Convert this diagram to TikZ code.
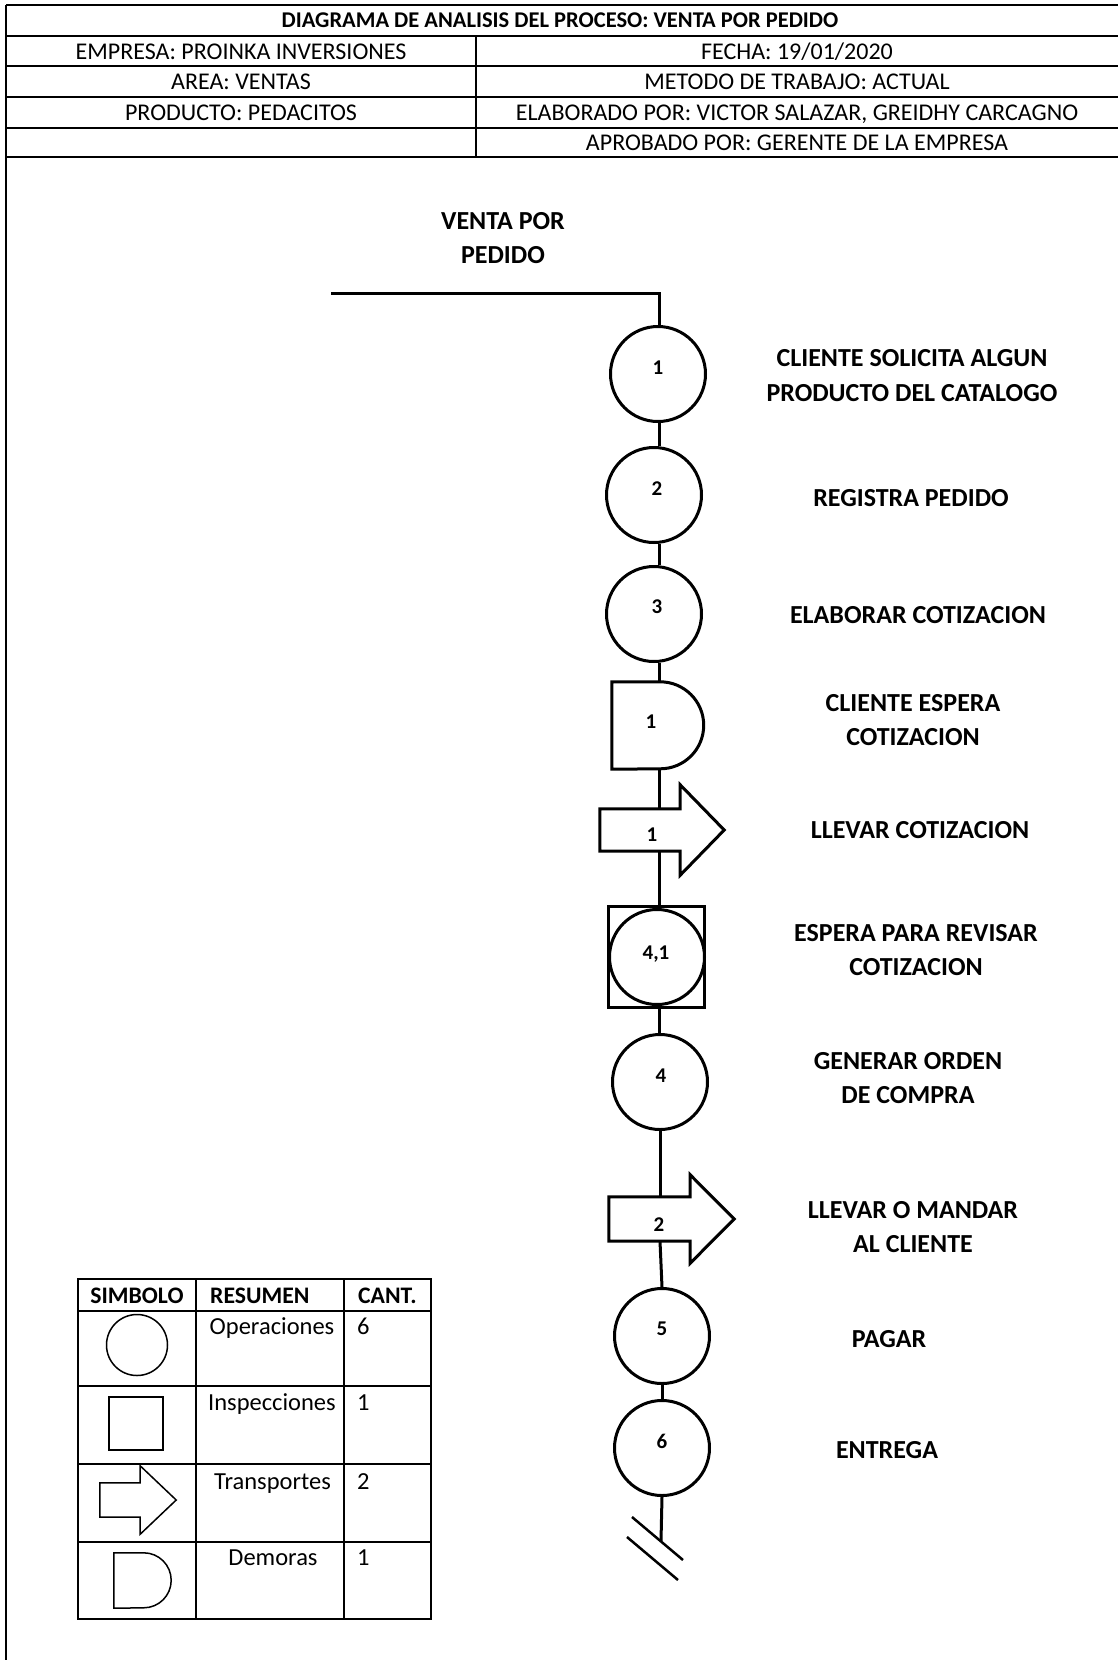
\documentclass[tikz,border=0pt]{standalone}
\usepackage{fontspec}
\setmainfont{Carlito}
\usetikzlibrary{calc}
\newcommand\tarrowshape[4]{% node, head extend, tip length, line width
  \draw[line width=#4, fill=white] (#1.north west) -- (#1.north east) -- ++(0,-#2)
    -- ($(#1.east)+(#3,0)$) -- ($(#1.south east)+(0,#2)$) -- (#1.south east)
    -- (#1.south west) -- cycle;}
\newcommand\dshape[3]{% node, radius, line width
  \draw[line width=#3, fill=white] (#1.north west) -- ($(#1.north east)-(#2,0)$)
    arc[start angle=-90, end angle=90, radius=#2] -- (#1.south west) -- cycle;}
\begin{document}
\begin{tikzpicture}[x=1pt,y=-1pt,
  hdr/.style={font=\fontsize{24}{28}\selectfont, anchor=base, inner sep=0},
  hdrb/.style={font=\fontsize{22.5}{26}\selectfont\bfseries, anchor=base, inner sep=0},
  lbl/.style={font=\fontsize{26}{34.5}\selectfont\bfseries, align=center, inner sep=0},
  num/.style={font=\fontsize{21}{24}\selectfont\bfseries, anchor=base, inner sep=0},
  lgt/.style={font=\fontsize{24.5}{28}\selectfont, anchor=base, inner sep=0},
  lgtb/.style={font=\fontsize{23.7}{27}\selectfont\bfseries, anchor=base, inner sep=0},
  op/.style={circle, draw, line width=3pt, minimum size=95pt, inner sep=0, fill=white},
  box/.style={draw=none, inner sep=0},
  flow/.style={line width=3pt},
  tbl/.style={line width=2pt},
  sym/.style={line width=1.5pt}]
\useasboundingbox (0,0) rectangle (1118,1660);
% ---------- header ----------
\draw[tbl] (6,5) -- (6,1660);
\foreach \yy in {5,36,66,97,128,157} \draw[tbl] (6,\yy) -- (1118,\yy);
\draw[tbl] (476,36) -- (476,157);
\node[hdrb] (title) at (560,27.5) {DIAGRAMA DE ANALISIS DEL PROCESO: VENTA POR PEDIDO};
\node[hdr] (emp) at (241,59) {EMPRESA: PROINKA INVERSIONES};
\node[hdr] (fec) at (797,59) {FECHA: 19/01/2020};
\node[hdr] (area) at (241,89) {AREA: VENTAS};
\node[hdr] (met) at (797,89) {METODO DE TRABAJO: ACTUAL};
\node[hdr] (prod) at (241,120) {PRODUCTO: PEDACITOS};
\node[hdr] (ela) at (797,120) {ELABORADO POR: VICTOR SALAZAR, GREIDHY CARCAGNO};
\node[hdr] (apr) at (797,150) {APROBADO POR: GERENTE DE LA EMPRESA};
% ---------- flow ----------
\node[lbl] (vp) at (503,238) {VENTA POR\\PEDIDO};
\coordinate (spine) at (659,0);
\coordinate (start) at (331,293);
\coordinate (end) at (661,1541);
\node[op] (c1) at (658,374) {};
\node[op] (c2) at (654,495) {};
\node[op] (c3) at (654,614) {};
\node[box, minimum width=91.5pt, minimum height=87pt] (d1) at (657.75,725.5) {};
\node[box, minimum width=80pt, minimum height=42pt] (t1) at (640,830) {};
\node[draw, line width=3pt, fill=white, minimum width=96pt, minimum height=101pt, inner sep=0] (sq) at (656.5,957) {};
\node[op] (c41) at (657,957) {};
\node[op] (c4) at (660,1082) {};
\node[box, minimum width=81pt, minimum height=44pt] (t2) at (649.5,1219) {};
\node[op] (c5) at (662,1336) {};
\node[op] (c6) at (662,1448) {};
\dshape{d1}{43.5}{3pt}
\tarrowshape{t1}{24}{44}{3pt}
\tarrowshape{t2}{22}{44}{3pt}
% connectors
\draw[flow] (start) -| (c1.north -| spine);
\draw[flow] (c1.south -| spine) -- (c2.north -| spine);
\draw[flow] (c2.south -| spine) -- (c3.north -| spine);
\draw[flow] (c3.south -| spine) -- (d1.north -| spine);
\draw[flow] (d1.south -| spine) -- (t1.north -| spine);
\draw[flow] (t1.south -| spine) -- (sq.north -| spine);
\draw[flow] (sq.south -| spine) -- (c4.north -| spine);
\draw[flow] (c4.south) -- (c4.south |- t2.north);
\draw[flow] (c4.south |- t2.south) -- (c5.north);
\draw[flow] (c5.south) -- (c6.north);
\draw[flow] (c6.south) -- (end);
\draw[line width=2.5pt] (632,1517) -- (683,1560);
\draw[line width=2.5pt] (627,1537) -- (678,1580);
% numbers
\node[num] (n1) at (658,374) {1};
\node[num] (n2) at (657,495) {2};
\node[num] (n3) at (657,613) {3};
\node[num] (nd1) at (651,728) {1};
\node[num] (nt1) at (652,841) {1};
\node[num] (n41) at (656,959) {4,1};
\node[num] (n4) at (661,1082) {4};
\node[num] (nt2) at (659,1231) {2};
\node[num] (n5) at (662,1335) {5};
\node[num] (n6) at (662,1448) {6};
% labels
\node[lbl] (l1) at (912,375.5) {CLIENTE SOLICITA ALGUN\\PRODUCTO DEL CATALOGO};
\node[lbl] (l2) at (911,498) {REGISTRA PEDIDO};
\node[lbl] (l3) at (918,615) {ELABORAR COTIZACION};
\node[lbl] (l4) at (913,720) {CLIENTE ESPERA\\COTIZACION};
\node[lbl] (l5) at (920,830) {LLEVAR COTIZACION};
\node[lbl] (l6) at (916,950) {ESPERA PARA REVISAR\\COTIZACION};
\node[lbl] (l7) at (908,1078) {GENERAR ORDEN\\DE COMPRA};
\node[lbl] (l8) at (913,1227) {LLEVAR O MANDAR\\AL CLIENTE};
\node[lbl] (l9) at (889,1339) {PAGAR};
\node[lbl] (l10) at (887,1450) {ENTREGA};
% ---------- legend ----------
\draw[tbl] (78,1279) rectangle (431,1619);
\foreach \yy in {1311,1386,1464,1542} \draw[tbl] (78,\yy) -- (431,\yy);
\draw[tbl] (196,1279) -- (196,1619);
\draw[tbl] (344,1279) -- (344,1619);
\node[lgtb] (hs) at (137,1303) {SIMBOLO};
\node[lgtb, anchor=base west] (hr) at (210,1303) {RESUMEN};
\node[lgtb, anchor=base west] (hc) at (358,1303) {CANT.};
\node[circle, draw, sym, minimum size=61pt, inner sep=0] (lc) at (137,1345) {};
\node[draw, sym, minimum width=54pt, minimum height=53pt, inner sep=0] (ls) at (136,1423.5) {};
\node[box, minimum width=40pt, minimum height=34pt] (la) at (120,1500) {};
\tarrowshape{la}{17}{36}{1.5pt}
\node[box, minimum width=57pt, minimum height=55pt] (ld) at (142.5,1580.5) {};
\dshape{ld}{27.5}{1.5pt}
\node[lgt] (r1) at (272,1334) {Operaciones};
\node[lgt] (r2) at (272,1410) {Inspecciones};
\node[lgt] (r3) at (272.5,1489) {Transportes};
\node[lgt] (r4) at (273,1565) {Demoras};
\node[lgt, anchor=base west] (q1) at (357,1334) {6};
\node[lgt, anchor=base west] (q2) at (357,1410) {1};
\node[lgt, anchor=base west] (q3) at (357,1489) {2};
\node[lgt, anchor=base west] (q4) at (357,1565) {1};
\end{tikzpicture}
\end{document}
